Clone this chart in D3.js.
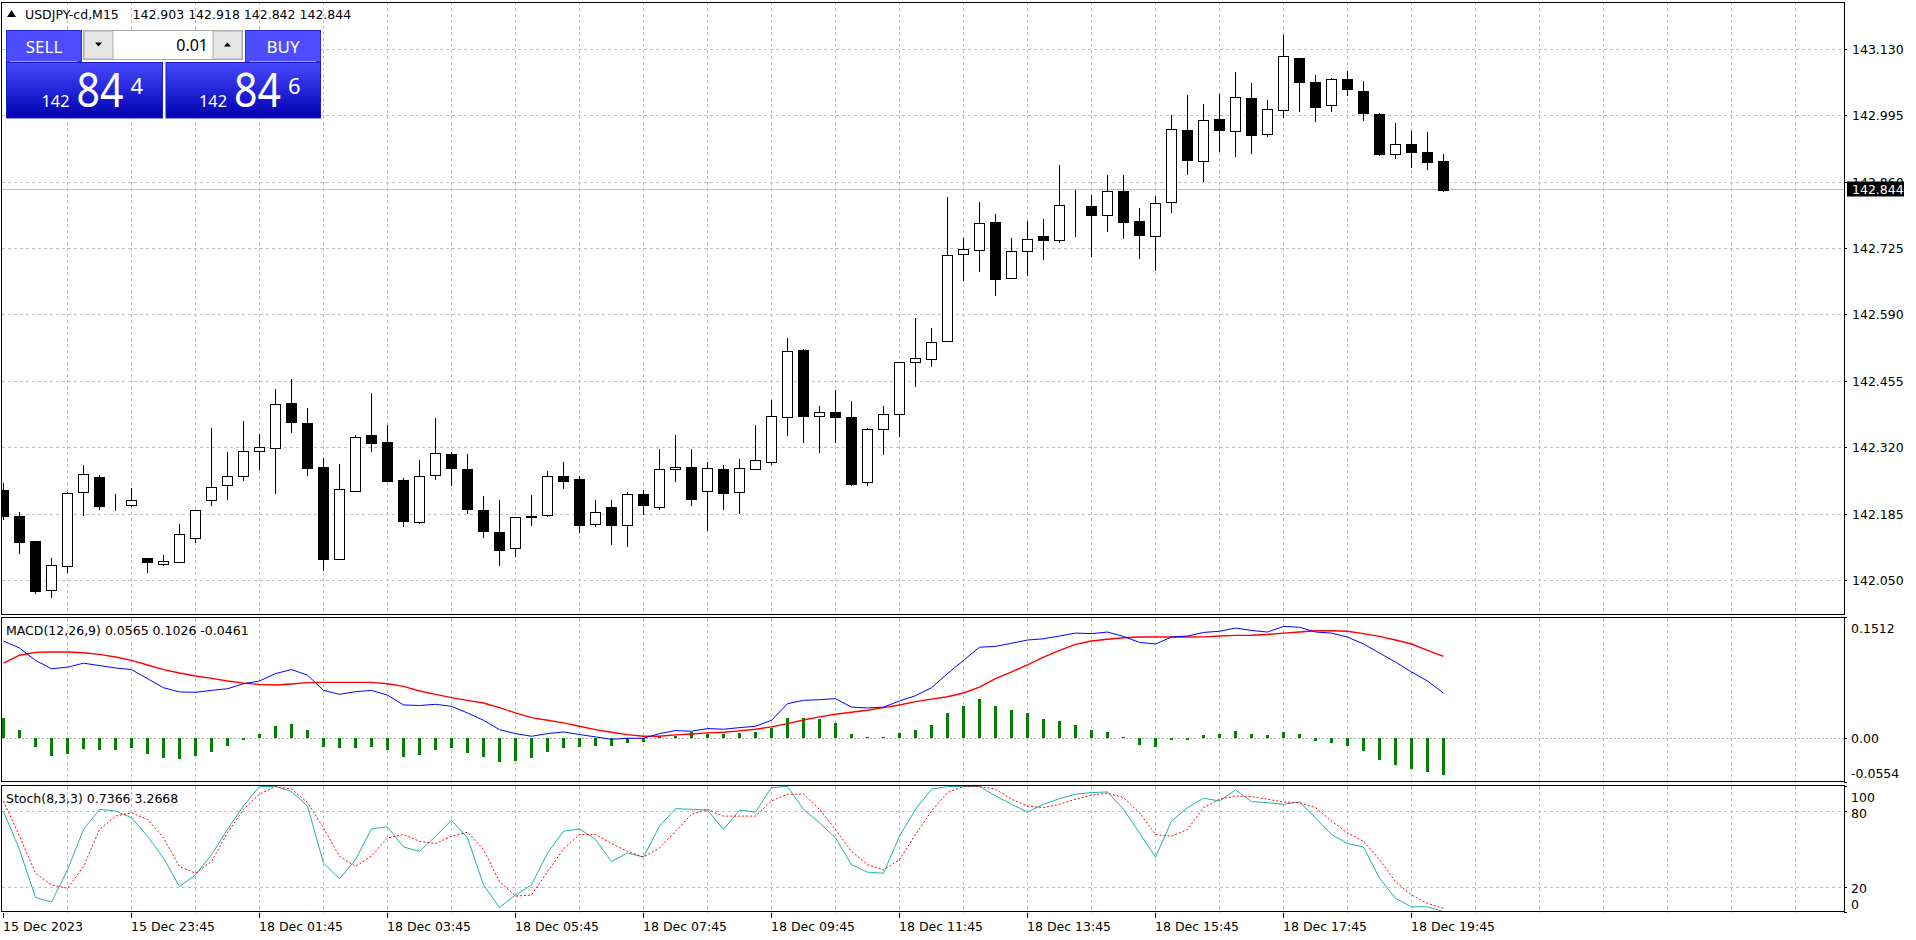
<!DOCTYPE html>
<html><head><meta charset="utf-8">
<script src="https://cdn.jsdelivr.net/npm/d3@7"></script>
<style>
body{margin:0;background:#fff;overflow:hidden}
svg{display:block}
text{font-family:"DejaVu Sans",sans-serif;font-size:12.5px;fill:#000}
.pn{font-family:"Noto Sans",sans-serif;fill:#fff}
</style>
</head><body><svg id="c" width="1916" height="940"></svg>
<script>
// ---------------- DATA ----------------
const symbolTitle = "USDJPY-cd,M15";
const lastOHLC = "142.903 142.918 142.842 142.844";
const open = [142.233,142.182,142.131,142.030,142.080,142.229,142.261,142.202,142.204,142.095,
142.084,142.088,142.137,142.214,142.245,142.263,142.314,142.320,142.411,142.371,
142.281,142.094,142.232,142.346,142.332,142.255,142.169,142.265,142.308,142.277,
142.194,142.149,142.115,142.178,142.183,142.263,142.256,142.165,142.200,142.163,
142.225,142.200,142.277,142.281,142.232,142.277,142.230,142.277,142.291,142.383,
142.519,142.385,142.393,142.383,142.251,142.357,142.389,142.495,142.501,142.537,
142.713,142.723,142.778,142.666,142.719,142.750,142.742,142.811,142.811,142.794,
142.843,142.780,142.750,142.819,142.967,142.904,142.988,142.965,143.032,142.957,
143.006,143.112,143.063,143.016,143.069,143.046,142.999,142.918,142.938,142.922,142.903];
const high = [142.248,142.190,142.131,142.095,142.230,142.284,142.265,142.225,142.237,142.095,
142.101,142.164,142.194,142.359,142.311,142.375,142.347,142.440,142.459,142.400,
142.298,142.286,142.345,142.432,142.367,142.259,142.294,142.380,142.311,142.308,
142.221,142.213,142.178,142.223,142.272,142.290,142.262,142.213,142.213,142.229,
142.233,142.317,142.345,142.317,142.290,142.284,142.296,142.367,142.416,142.543,
142.521,142.405,142.438,142.414,142.359,142.405,142.495,142.584,142.564,142.830,
142.746,142.819,142.796,142.746,142.782,142.786,142.894,142.845,142.833,142.874,
142.874,142.807,142.831,142.996,143.037,143.019,143.039,143.085,143.061,143.028,
143.159,143.112,143.077,143.071,143.087,143.065,143.001,142.981,142.964,142.961,142.918];
const low = [142.174,142.106,142.024,142.016,142.068,142.183,142.195,142.193,142.202,142.068,
142.081,142.088,142.128,142.204,142.216,142.254,142.277,142.228,142.352,142.265,
142.071,142.093,142.232,142.313,142.252,142.161,142.167,142.256,142.244,142.187,
142.139,142.081,142.099,142.163,142.181,142.238,142.148,142.160,142.124,142.120,
142.185,142.195,142.252,142.204,142.153,142.195,142.187,142.277,142.287,142.346,
142.331,142.311,142.332,142.245,142.245,142.307,142.344,142.445,142.486,142.537,
142.662,142.680,142.631,142.666,142.671,142.704,142.738,142.750,142.709,142.760,
142.746,142.705,142.681,142.800,142.877,142.863,142.924,142.914,142.920,142.954,
142.993,143.005,142.985,143.004,143.038,142.987,142.916,142.910,142.891,142.887,142.842];
const close = [142.181,142.129,142.029,142.082,142.227,142.267,142.202,142.202,142.214,142.088,
142.089,142.145,142.194,142.241,142.263,142.314,142.322,142.409,142.372,142.279,
142.094,142.235,142.342,142.329,142.252,142.171,142.263,142.310,142.279,142.195,
142.151,142.112,142.178,142.182,142.263,142.252,142.163,142.190,142.163,142.225,
142.204,142.277,142.281,142.216,142.279,142.228,142.279,142.294,142.385,142.517,
142.384,142.393,142.383,142.247,142.357,142.388,142.495,142.502,142.535,142.711,
142.725,142.776,142.664,142.719,142.744,142.742,142.813,142.811,142.794,142.843,
142.778,142.752,142.817,142.969,142.906,142.986,142.967,143.034,142.956,143.008,
143.116,143.064,143.012,143.069,143.049,143.001,142.918,142.938,142.922,142.902,142.844];
const currentPrice = 142.844;
const priceTicks = [143.130,142.995,142.860,142.725,142.590,142.455,142.320,142.185,142.050];

const macdLabel = "MACD(12,26,9) 0.0565 0.1026 -0.0461";
const macdMain = [0.1217,0.113,0.0975,0.087,0.089,0.094,0.091,0.088,0.086,0.0746,
0.0633,0.058,0.0575,0.060,0.062,0.0683,0.0717,0.081,0.086,0.079,
0.060,0.055,0.0583,0.060,0.054,0.0417,0.041,0.0425,0.040,0.0317,
0.0225,0.0108,0.0058,0.0025,0.0058,0.0079,0.0046,0.0017,-0.0013,0.0,
0.0,0.0058,0.0096,0.0088,0.0121,0.0113,0.0133,0.015,0.0225,0.0433,
0.0475,0.0483,0.0496,0.039,0.038,0.039,0.0467,0.0533,0.0633,0.081,
0.0975,0.114,0.115,0.119,0.123,0.1246,0.128,0.1317,0.131,0.133,
0.1275,0.120,0.118,0.1267,0.128,0.1325,0.134,0.138,0.135,0.133,
0.140,0.139,0.133,0.1317,0.1267,0.118,0.1067,0.0954,0.083,0.0717,0.0565];
const macdSignal = [0.094,0.104,0.1075,0.108,0.108,0.107,0.105,0.1017,0.0975,0.0917,
0.086,0.0817,0.078,0.075,0.0717,0.069,0.0675,0.0667,0.068,0.0696,
0.070,0.070,0.070,0.070,0.0683,0.065,0.0592,0.055,0.0508,0.0475,
0.0442,0.0383,0.0317,0.0258,0.0225,0.0192,0.015,0.0108,0.0075,0.0046,
0.0025,0.0025,0.0042,0.0054,0.0067,0.0075,0.0092,0.0113,0.0142,0.0183,
0.0229,0.0267,0.030,0.0325,0.035,0.0383,0.0417,0.0458,0.049,0.052,
0.0567,0.064,0.0746,0.083,0.092,0.1017,0.110,0.1175,0.1217,0.124,
0.1258,0.1267,0.1267,0.1267,0.1267,0.127,0.128,0.1288,0.129,0.130,
0.1317,0.133,0.1346,0.1346,0.134,0.131,0.1275,0.123,0.118,0.110,0.1026];
const macdHist = [0.025,0.010,-0.0108,-0.022,-0.020,-0.0138,-0.0142,-0.0142,-0.012,-0.020,
-0.0246,-0.0258,-0.0225,-0.0171,-0.010,-0.0025,0.005,0.015,0.0175,0.010,
-0.0113,-0.0125,-0.0117,-0.0108,-0.0146,-0.0233,-0.0213,-0.0146,-0.012,-0.018,
-0.0233,-0.0296,-0.0283,-0.0242,-0.0171,-0.012,-0.0113,-0.010,-0.0096,-0.0058,
-0.005,0.0033,0.0033,0.0075,0.005,0.0058,0.0067,0.0083,0.0133,0.0258,
0.025,0.0246,0.0192,0.005,0.0013,0.0013,0.0063,0.0104,0.0163,0.031,
0.040,0.0488,0.041,0.036,0.031,0.0238,0.0213,0.0163,0.0104,0.0075,
0.0013,-0.0083,-0.0113,-0.002,-0.002,0.0038,0.005,0.0088,0.005,0.0038,
0.0075,0.005,-0.003,-0.0058,-0.010,-0.0158,-0.027,-0.0338,-0.0383,-0.042,-0.0461];
const macdTicks = [{v:0.1512,t:"0.1512"},{v:0,t:"0.00"},{v:-0.0554,t:"-0.0554"}];

const stochLabel = "Stoch(8,3,3) 0.7366 3.2668";
const stochMain = [80,49.9,12,8.3,33.9,65.9,81.9,80.5,75.2,60.5,
43.2,20.5,29.9,45.9,65.9,84.5,100,100,96,84.5,
39.2,26.7,41.9,66.4,68,52,48.5,60.5,73.3,59.2,
21.9,4,13.9,21.9,47.2,64.5,66.4,57.9,40.5,47.2,
44,68.5,82.4,81.9,81.3,65.9,81.3,79.7,99.2,100,
81.9,71.2,59.2,37.9,32,31.2,60.5,81.9,97.9,100,
100,100,92.5,85.9,79.7,85.9,90.4,93.9,95.2,95.7,
81.9,63.2,44,72.5,83.2,90.7,88.5,97.3,88,87.2,
85.9,87.7,75.2,61.9,54.7,52,27.2,11.2,4.5,4.5,0.74];
const stochSignal = [88.5,60.5,31.2,21.9,19.2,36.5,65.9,76.5,79.2,73.9,
59.2,36.5,31.2,40.5,63.2,81.9,93.9,100,97.9,87.2,
67.2,44.5,36.5,45,59.2,61.9,56.5,54.7,60.5,63.7,
49.9,24.5,13,13.9,32.5,50.4,61.9,61.9,54.7,48.5,
44,51.2,64.5,77.9,81.9,76.5,76.5,76.5,88.5,93.9,
93.9,81.9,65.9,48.5,37.9,33.9,41.9,61.9,80.5,95.2,
100,100,97.9,89.9,84.5,83.2,85.9,89.9,93.1,94.7,
91.2,79.2,61.9,60.5,65.9,83.2,89.9,92.5,92,89.9,
87.7,87.2,83.2,72.5,63.2,56.5,41.9,24.5,13.9,7.2,3.27];
const stochTicks = [{v:100,t:"100"},{v:80,t:"80"},{v:20,t:"20"},{v:0,t:"0"}];
const stochLevels = [80,20];

const dateLabels = ["15 Dec 2023","15 Dec 23:45","18 Dec 01:45","18 Dec 03:45","18 Dec 05:45","18 Dec 07:45",
"18 Dec 09:45","18 Dec 11:45","18 Dec 13:45","18 Dec 15:45","18 Dec 17:45","18 Dec 19:45"];
const dateBars = [0,8,16,24,32,40,48,56,64,72,80,88];
const barsPerGrid = 4;

const lotSize = "0.01";
const bidParts = ["142","84","4"];
const askParts = ["142","84","6"];

// ---------------- LAYOUT ----------------
const svg = d3.select("#c");
const defs = svg.append("defs");
const L = 2, R = 1844;
const P1 = {t:2, b:615}, P2 = {t:617.5, b:782.5}, P3 = {t:785.5, b:912.5};
const n = close.length;

const x = d3.scaleLinear().domain([0,1]).range([3.5,19.5]);
const y = d3.scaleLinear().domain([141.9797,143.2264]).range([P1.b,P1.t]);
const ym = d3.scaleLinear().domain([-0.0554,0.1512]).range([P2.b,P2.t]);
const ys = d3.scaleLinear().domain([0,100]).range([P3.b,P3.t+1]);
const cr = v => Math.round(v)+0.5;

function clip(id,p){defs.append("clipPath").attr("id",id).append("rect")
  .attr("x",L).attr("y",p.t).attr("width",R-L).attr("height",p.b-p.t);}
clip("c1",P1);clip("c2",P2);clip("c3",P3);

// vertical grid
const gridIdx = d3.range(barsPerGrid, 120, barsPerGrid).filter(i=>x(i)<R-2);
[P1,P2,P3].forEach(p=>{
  svg.append("g").selectAll("line").data(gridIdx).join("line")
    .attr("x1",d=>x(d)).attr("x2",d=>x(d)).attr("y1",p.t).attr("y2",p.b)
    .attr("stroke","#c0c0c0").attr("stroke-dasharray","3,3").attr("shape-rendering","crispEdges");
});
// horizontal grid main
svg.append("g").selectAll("line").data(priceTicks).join("line")
  .attr("x1",L).attr("x2",R).attr("y1",d=>cr(y(d)-0.5)).attr("y2",d=>cr(y(d)-0.5))
  .attr("stroke","#c0c0c0").attr("stroke-dasharray","3,3").attr("shape-rendering","crispEdges");
// MACD zero line
svg.append("line").attr("x1",L).attr("x2",R).attr("y1",cr(ym(0)-0.5)).attr("y2",cr(ym(0)-0.5))
  .attr("stroke","#b0b0b0").attr("stroke-dasharray","2,2").attr("shape-rendering","crispEdges");
// stoch levels
svg.append("g").selectAll("line").data(stochLevels).join("line")
  .attr("x1",L).attr("x2",R).attr("y1",d=>cr(ys(d)-0.5)).attr("y2",d=>cr(ys(d)-0.5))
  .attr("stroke","#c0c0c0").attr("stroke-dasharray","3,3").attr("shape-rendering","crispEdges");

// current price line
svg.append("line").attr("x1",L).attr("x2",R).attr("y1",cr(y(currentPrice)-1)).attr("y2",cr(y(currentPrice)-1))
  .attr("stroke","#c0c0c0").attr("shape-rendering","crispEdges");

// candles
const cg = svg.append("g").attr("clip-path","url(#c1)").attr("shape-rendering","crispEdges");
const idx = d3.range(n);
cg.selectAll("line.w").data(idx).join("line")
  .attr("x1",i=>x(i)).attr("x2",i=>x(i))
  .attr("y1",i=>Math.round(y(high[i]))).attr("y2",i=>Math.round(y(low[i]))+1)
  .attr("stroke","#000");
cg.selectAll("rect").data(idx).join("rect")
  .attr("x",i=>x(i)-5).attr("width",10)
  .attr("y",i=>cr(y(Math.max(open[i],close[i]))))
  .attr("height",i=>Math.max(0,Math.round(y(Math.min(open[i],close[i])))-Math.round(y(Math.max(open[i],close[i])))))
  .attr("fill",i=>close[i]>=open[i]?"#fff":"#000").attr("stroke","#000");

// MACD
const mg = svg.append("g").attr("clip-path","url(#c2)");
mg.selectAll("rect").data(idx).join("rect").attr("shape-rendering","crispEdges")
  .attr("x",i=>x(i)-1.5).attr("width",3)
  .attr("y",i=>Math.min(ym(0),ym(macdHist[i]))).attr("height",i=>Math.abs(ym(0)-ym(macdHist[i])))
  .attr("fill","#008000");
mg.append("path").datum(macdSignal).attr("d",d3.line().x((d,i)=>x(i)).y(d=>ym(d)))
  .attr("fill","none").attr("stroke","#ff0000").attr("stroke-width",1.4);
mg.append("path").datum(macdMain).attr("d",d3.line().x((d,i)=>x(i)).y(d=>ym(d)))
  .attr("fill","none").attr("stroke","#0000ff").attr("stroke-width",1);

// Stoch
const sg = svg.append("g").attr("clip-path","url(#c3)");
sg.append("path").datum(stochMain).attr("d",d3.line().x((d,i)=>x(i)).y(d=>ys(d)))
  .attr("fill","none").attr("stroke","#20b2aa").attr("stroke-width",1);
sg.append("path").datum(stochSignal).attr("d",d3.line().x((d,i)=>x(i)).y(d=>ys(d)))
  .attr("fill","none").attr("stroke","#ff0000").attr("stroke-width",1).attr("stroke-dasharray","2,2");

// frames
[P1,P2,P3].forEach(p=>{
  svg.append("rect").attr("x",L-0.5).attr("y",Math.floor(p.t)+0.5).attr("width",R-L+1).attr("height",Math.round(p.b-p.t)-1)
   .attr("fill","none").attr("stroke","#000").attr("shape-rendering","crispEdges");
});

// price axis labels
const ax = svg.append("g");
ax.selectAll("text.p").data(priceTicks).join("text").attr("class","p")
  .attr("x",R+8).attr("y",d=>y(d)+4.5).text(d=>d.toFixed(3));
ax.selectAll("line.p").data(priceTicks).join("line").attr("class","p")
  .attr("x1",R).attr("x2",R+3).attr("y1",d=>cr(y(d)-0.5)).attr("y2",d=>cr(y(d)-0.5))
  .attr("stroke","#000").attr("shape-rendering","crispEdges");
// current price box
const cy = y(currentPrice);
ax.append("rect").attr("x",R+3).attr("y",Math.round(cy)-8.5).attr("width",57).attr("height",15).attr("fill","#000");
ax.append("text").attr("x",R+8).attr("y",cy+4).style("fill","#fff").text(currentPrice.toFixed(3));

// macd axis labels
const macdLY = [ym(0.1512)+15, ym(0)+5, ym(-0.0554)-4.5];
ax.selectAll("text.m").data(macdTicks).join("text").attr("class","m")
  .attr("x",R+7).attr("y",(d,i)=>macdLY[i]).text(d=>d.t);
const stochLY = [ys(100)+15, ys(80)+6, ys(20)+5.5, ys(0)-4];
ax.selectAll("text.s").data(stochTicks).join("text").attr("class","s")
  .attr("x",R+7).attr("y",(d,i)=>stochLY[i]).text(d=>d.t);
ax.selectAll("line.t").data([...macdTicks.map(d=>ym(d.v)),...stochTicks.map(d=>ys(d.v))]).join("line").attr("class","t")
  .attr("x1",R).attr("x2",R+3).attr("y1",d=>cr(d-0.5)).attr("y2",d=>cr(d-0.5))
  .attr("stroke","#000").attr("shape-rendering","crispEdges");

// date axis
ax.selectAll("text.d").data(dateBars).join("text").attr("class","d")
  .attr("x",d=>x(d)-0.5).attr("y",930.5).text((d,i)=>dateLabels[i]);
ax.selectAll("line.d").data(dateBars).join("line").attr("class","d")
  .attr("x1",d=>x(d)).attr("x2",d=>x(d)).attr("y1",P3.b).attr("y2",P3.b+5)
  .attr("stroke","#000").attr("shape-rendering","crispEdges");

// pane labels
svg.append("path").attr("d","M7,17L16,17L11.5,10Z").attr("fill","#000");
svg.append("text").attr("x",25).attr("y",18.5).text(symbolTitle);
svg.append("text").attr("x",132.5).attr("y",18.5).text(lastOHLC);
svg.append("text").attr("x",6).attr("y",634.5).text(macdLabel);
svg.append("text").attr("x",6).attr("y",802.5).text(stochLabel);

// ---------------- One-click trading panel ----------------
const grad = defs.append("linearGradient").attr("id","pg").attr("x1",0).attr("y1",0).attr("x2",0).attr("y2",1);
grad.append("stop").attr("offset","0%").attr("stop-color","#4848ff");
grad.append("stop").attr("offset","100%").attr("stop-color","#0000b0");
const tp = svg.append("g");
tp.append("rect").attr("x",6).attr("y",30).attr("width",315).attr("height",88.5).attr("fill","#fff");
[[6,"SELL"],[245,"BUY"]].forEach(([hx,t])=>{
  tp.append("rect").attr("x",hx+0.5).attr("y",30.5).attr("width",75).attr("height",31.5)
    .attr("fill","#4d4dff").attr("stroke","#2a2ad8");
  tp.append("line").attr("x1",hx+4).attr("x2",hx+71).attr("y1",61.5).attr("y2",61.5).attr("stroke","#9a9aff");
  tp.append("text").attr("class","pn").attr("x",hx+38).attr("y",52.5).attr("text-anchor","middle")
    .style("font-size","17px").text(t);
});
tp.append("rect").attr("x",83.5).attr("y",30.5).attr("width",159).attr("height",29).attr("fill","#fff").attr("stroke","#a8a8a8");
tp.append("rect").attr("x",84).attr("y",31).attr("width",29).attr("height",28).attr("fill","#e5e5e5").attr("stroke","#adadad");
tp.append("rect").attr("x",213).attr("y",31).attr("width",29).attr("height",28).attr("fill","#e5e5e5").attr("stroke","#adadad");
tp.append("path").attr("d","M95,42.5L102,42.5L98.5,46.5Z").attr("fill","#000");
tp.append("path").attr("d","M224,46.5L231,46.5L227.5,42.5Z").attr("fill","#000");
tp.append("text").attr("x",208).attr("y",51).attr("text-anchor","end")
  .style("font-family","Noto Sans").style("font-size","16px").text(lotSize);
[[6,157,bidParts,[35.5,70.5,124.5]],[165.5,155.5,askParts,[33.5,68.5,122.5]]].forEach(([bx,bw,parts,off])=>{
  tp.append("rect").attr("x",bx+0.5).attr("y",62.5).attr("width",bw-1).attr("height",55.5)
    .attr("fill","url(#pg)").attr("stroke","#1a1ac8");
  tp.append("text").attr("class","pn").attr("x",bx+off[0]).attr("y",106.5).style("font-size","17px")
    .attr("textLength",28).attr("lengthAdjust","spacingAndGlyphs").text(parts[0]);
  tp.append("text").attr("class","pn").attr("x",bx+off[1]).attr("y",106.5).style("font-size","47px")
    .attr("textLength",47).attr("lengthAdjust","spacingAndGlyphs").text(parts[1]);
  tp.append("text").attr("class","pn").attr("x",bx+off[2]).attr("y",94).style("font-size","22px").text(parts[2]);
});
</script></body></html>
